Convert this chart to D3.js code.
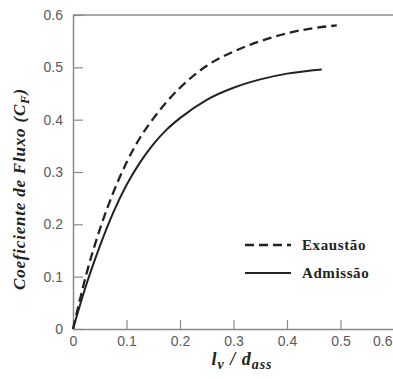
<!DOCTYPE html>
<html>
<head>
<meta charset="utf-8">
<script src="https://cdn.jsdelivr.net/npm/d3@7"></script>
<style>
  body { margin: 0; background: #fff; }
  svg { display: block; }
</style>
</head>
<body>
<div id="graph"></div>
<script>
// Daten
var exaustaoX = [0, 0.025, 0.05, 0.075, 0.1, 0.125, 0.15, 0.175, 0.2, 0.25, 0.3, 0.35, 0.4, 0.45, 0.493];
var exaustaoY = [0, 0.105, 0.19, 0.26, 0.318, 0.365, 0.402, 0.434, 0.461, 0.503, 0.53, 0.55, 0.565, 0.575, 0.58];
var admissaoX = [0, 0.025, 0.05, 0.075, 0.1, 0.125, 0.15, 0.175, 0.2, 0.25, 0.3, 0.35, 0.4, 0.465];
var admissaoY = [0, 0.085, 0.158, 0.222, 0.275, 0.318, 0.353, 0.381, 0.403, 0.438, 0.461, 0.477, 0.488, 0.496];
var xTicks = [0, 0.1, 0.2, 0.3, 0.4, 0.5, 0.6];
var yTicks = [0, 0.1, 0.2, 0.3, 0.4, 0.5, 0.6];
var legendNames = ["Exaustão", "Admissão"];

var margin = { top: 15, right: 0, bottom: 50, left: 73 },
    width = 394 - margin.left,
    height = 329 - margin.top;

var svg = d3.select("#graph")
    .append("svg")
    .attr("width", 393)
    .attr("height", 379)
    .append("g")
    .attr("transform", "translate(" + margin.left + "," + margin.top + ")");

var x = d3.scaleLinear().domain([0, 0.6]).range([0, width]);
var y = d3.scaleLinear().domain([0, 0.6]).range([height, 0]);

var axisColor = "#8a8a8a";
var labelColor = "#5a5a5a";

//Rahmen oben
svg.append("line")
    .attr("x1", 0).attr("x2", width)
    .attr("y1", 0).attr("y2", 0)
    .attr("stroke", axisColor).attr("stroke-width", 1.5);

//x-Achse (Ticks nach innen)
var xAxis = svg.append("g")
    .attr("transform", "translate(0," + height + ")")
    .call(d3.axisBottom(x).tickValues(xTicks).tickSizeInner(-9).tickSizeOuter(0)
        .tickFormat(function(d) { return d === 0 ? "0" : d3.format(".1f")(d); }));
xAxis.select(".domain").attr("stroke", axisColor).attr("stroke-width", 1.5);
xAxis.selectAll(".tick line").attr("stroke", axisColor).attr("stroke-width", 1.2);
xAxis.selectAll(".tick text")
    .attr("y", 7)
    .attr("fill", labelColor)
    .style("font-family", "Liberation Sans, Arial, sans-serif")
    .style("font-size", "14px");
//letzte Beschriftung am Rand nach links schieben, damit sie sichtbar bleibt
xAxis.selectAll(".tick text")
    .filter(function(d) { return d === 0.6; })
    .attr("text-anchor", "end")
    .attr("x", -2);

//y-Achse
var yAxis = svg.append("g")
    .call(d3.axisLeft(y).tickValues(yTicks).tickSizeInner(-10).tickSizeOuter(0)
        .tickFormat(function(d) { return d === 0 ? "0" : d3.format(".1f")(d); }));
yAxis.select(".domain").attr("stroke", axisColor).attr("stroke-width", 1.5);
yAxis.selectAll(".tick line").attr("stroke", axisColor).attr("stroke-width", 1.2);
yAxis.selectAll(".tick text")
    .attr("x", -10)
    .attr("fill", labelColor)
    .style("font-family", "Liberation Sans, Arial, sans-serif")
    .style("font-size", "14px");

//Kurven
var line = d3.line()
    .x(function(d) { return x(d[0]); })
    .y(function(d) { return y(d[1]); })
    .curve(d3.curveMonotoneX);

svg.append("path")
    .datum(exaustaoX.map(function(v, i) { return [v, exaustaoY[i]]; }))
    .attr("d", line)
    .attr("fill", "none")
    .attr("stroke", "#222")
    .attr("stroke-width", 2.3)
    .attr("stroke-dasharray", "9,5");

svg.append("path")
    .datum(admissaoX.map(function(v, i) { return [v, admissaoY[i]]; }))
    .attr("d", line)
    .attr("fill", "none")
    .attr("stroke", "#222")
    .attr("stroke-width", 2);

//Legende
var legend = svg.append("g").attr("transform", "translate(172,230)");
legendNames.forEach(function(name, i) {
    legend.append("line")
        .attr("x1", 0).attr("x2", 46)
        .attr("y1", i * 28).attr("y2", i * 28)
        .attr("stroke", "#222")
        .attr("stroke-width", i === 0 ? 2.3 : 2)
        .attr("stroke-dasharray", i === 0 ? "9,5" : null);
    legend.append("text")
        .attr("x", 57).attr("y", i * 28 + 5)
        .text(name)
        .attr("fill", "#222")
        .style("font-family", "Liberation Serif, Times New Roman, serif")
        .style("font-weight", "bold")
        .style("font-size", "15px")
        .style("letter-spacing", "0.6px");
});

//Achsenbeschriftungen
var yLabel = svg.append("text")
    .attr("transform", "translate(-48," + (height / 2 + 17) + ") rotate(-90)")
    .attr("text-anchor", "middle")
    .attr("fill", "#222")
    .style("font-family", "Liberation Serif, Times New Roman, serif")
    .style("font-style", "italic")
    .style("font-weight", "bold")
    .style("font-size", "17px")
    .style("letter-spacing", "0.8px");
yLabel.append("tspan").text("Coeficiente de Fluxo  (C");
yLabel.append("tspan").attr("dy", 4).style("font-size", "13px").text("F");
yLabel.append("tspan").attr("dy", -4).text(")");

var xLabel = svg.append("text")
    .attr("x", 169)
    .attr("y", height + 36)
    .attr("text-anchor", "middle")
    .attr("fill", "#222")
    .style("font-family", "Liberation Serif, Times New Roman, serif")
    .style("font-style", "italic")
    .style("font-weight", "bold")
    .style("font-size", "18px")
    .style("letter-spacing", "1px");
xLabel.append("tspan").text("l");
xLabel.append("tspan").attr("dy", 4).style("font-size", "14px").text("v");
xLabel.append("tspan").attr("dy", -4).text(" / d");
xLabel.append("tspan").attr("dy", 4).style("font-size", "14px").text("ass");
</script>
</body>
</html>
